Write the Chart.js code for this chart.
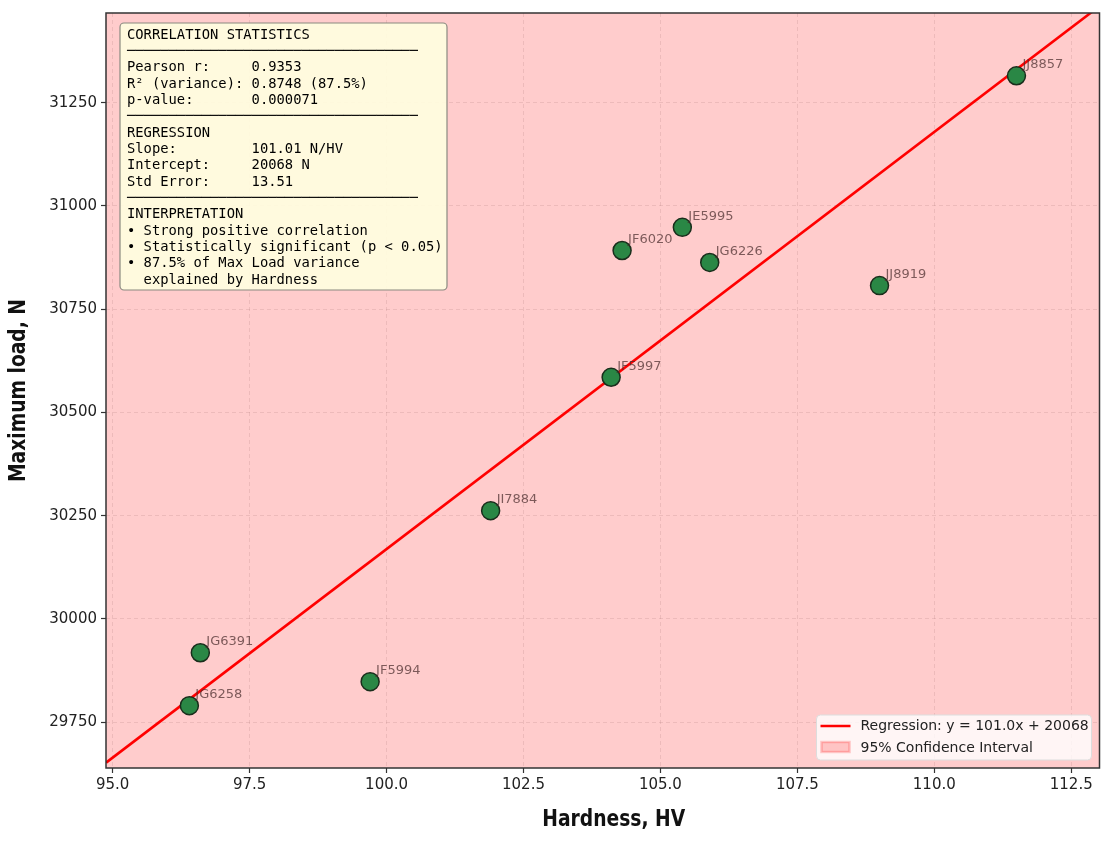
<!DOCTYPE html>
<html>
<head>
<meta charset="utf-8">
<script src="https://cdn.jsdelivr.net/npm/chart.js@4.4.1/dist/chart.umd.min.js"></script>
<style>
  body { margin: 0; background: #fff; }
  canvas { display: block; }
</style>
</head>
<body>
<canvas id="chart" width="1110" height="842"></canvas>
<script>
// samples
const sampleIds = ['JG6258', 'JG6391', 'JF5994', 'JI7884', 'JF5997', 'JF6020', 'JE5995', 'JG6226', 'JJ8919', 'JJ8857'];
const hardness = [96.4, 96.6, 99.7, 101.9, 104.1, 104.3, 105.4, 105.9, 109.0, 111.5];
const maxLoad = [29790, 29918, 29848, 30262, 30585, 30892, 30948, 30863, 30807, 31315];

// regression line ends (at the axis limits)
const regLineX = [94.88, 113.02];
const regLineY = [29652, 31484];

// confidence band - wider than the visible window
const ciX = [94, 114];
const ciUpper = [32000, 32000];
const ciLower = [29000, 29000];

const statsLines = [
  'CORRELATION STATISTICS',
  '─'.repeat(35),
  'Pearson r:     0.9353',
  'R² (variance): 0.8748 (87.5%)',
  'p-value:       0.000071',
  '─'.repeat(35),
  'REGRESSION',
  'Slope:         101.01 N/HV',
  'Intercept:     20068 N',
  'Std Error:     13.51',
  '─'.repeat(35),
  'INTERPRETATION',
  '• Strong positive correlation',
  '• Statistically significant (p < 0.05)',
  '• 87.5% of Max Load variance',
  '  explained by Hardness'
];

const legendItems = ['Regression: y = 101.0x + 20068', '95% Confidence Interval'];
const xTitle = 'Hardness, HV';
const yTitle = 'Maximum load, N';

const xMin = 94.878, xMax = 113.016;
const yMin = 29639, yMax = 31467;

const extras = {
  id: 'extras',
  afterDatasetsDraw(chart) {
    const ctx = chart.ctx;
    const area = chart.chartArea;
    const xs = chart.scales.x, ys = chart.scales.y;

    // sample labels
    ctx.save();
    ctx.font = '13px "DejaVu Sans"';
    ctx.fillStyle = 'rgba(75,45,45,0.72)';
    ctx.textBaseline = 'middle';
    ctx.textAlign = 'left';
    sampleIds.forEach((id, i) => {
      const px = xs.getPixelForValue(hardness[i]);
      const py = ys.getPixelForValue(maxLoad[i]);
      ctx.fillText(id, px + 6, py - 11);
    });
    ctx.restore();

    // frame
    ctx.save();
    ctx.strokeStyle = '#333';
    ctx.lineWidth = 1.5;
    ctx.strokeRect(area.left, area.top, area.right - area.left, area.bottom - area.top);
    ctx.restore();

    // stats box
    ctx.save();
    const bx = area.left + 14, by = area.top + 10, bw = 327, bh = 267;
    ctx.beginPath();
    ctx.roundRect(bx, by, bw, bh, 4);
    ctx.fillStyle = 'rgba(255,252,222,0.95)';
    ctx.fill();
    ctx.strokeStyle = '#8a8a80';
    ctx.lineWidth = 1.2;
    ctx.stroke();
    ctx.font = '13.8px "DejaVu Sans Mono"';
    ctx.fillStyle = '#000';
    ctx.textBaseline = 'middle';
    statsLines.forEach((t, i) => ctx.fillText(t, bx + 7, by + 12 + i * 16.35));
    ctx.restore();

    // legend
    ctx.save();
    const lx = area.right - 283, ly = area.bottom - 53, lw = 275, lh = 45;
    ctx.beginPath();
    ctx.roundRect(lx, ly, lw, lh, 4);
    ctx.fillStyle = 'rgba(255,255,255,0.8)';
    ctx.fill();
    ctx.strokeStyle = '#ddd';
    ctx.lineWidth = 1;
    ctx.stroke();
    ctx.strokeStyle = '#ff0000';
    ctx.lineWidth = 2.5;
    ctx.beginPath();
    ctx.moveTo(lx + 4, ly + 11);
    ctx.lineTo(lx + 34, ly + 11);
    ctx.stroke();
    ctx.fillStyle = 'rgba(255,0,0,0.2)';
    ctx.strokeStyle = 'rgba(255,0,0,0.2)';
    ctx.fillRect(lx + 5, ly + 27, 28, 10);
    ctx.strokeRect(lx + 5, ly + 27, 28, 10);
    ctx.font = '14px "DejaVu Sans"';
    ctx.fillStyle = '#222';
    ctx.textBaseline = 'middle';
    ctx.fillText(legendItems[0], lx + 44, ly + 11);
    ctx.fillText(legendItems[1], lx + 44, ly + 33);
    ctx.restore();

    // axis titles (squeezed to the narrow bold face of the original)
    ctx.save();
    ctx.font = 'bold 23px "DejaVu Sans Condensed", "DejaVu Sans"';
    ctx.fillStyle = '#111';
    ctx.textAlign = 'center';
    ctx.textBaseline = 'middle';
    ctx.fillText(xTitle, (area.left + area.right) / 2 + 11, 820, 143);
    ctx.translate(19, (area.top + area.bottom) / 2);
    ctx.rotate(-Math.PI / 2);
    ctx.fillText(yTitle, 0, 0, 183);
    ctx.restore();
  }
};

const tickFont = { family: 'DejaVu Sans', size: 15 };

new Chart(document.getElementById('chart'), {
  type: 'scatter',
  data: {
    datasets: [
      {
        label: 'Samples',
        data: hardness.map((h, i) => ({ x: h, y: maxLoad[i] })),
        backgroundColor: '#2a8745',
        borderColor: '#1a2e1c',
        borderWidth: 1.5,
        pointRadius: 9,
        pointHoverRadius: 9,
        order: 0
      },
      {
        type: 'line',
        label: legendItems[0],
        data: regLineX.map((x, i) => ({ x: x, y: regLineY[i] })),
        borderColor: '#ff0000',
        borderWidth: 2.6,
        pointRadius: 0,
        fill: false,
        order: 1
      },
      {
        type: 'line',
        label: 'ciUpper',
        data: ciX.map((x, i) => ({ x: x, y: ciUpper[i] })),
        borderWidth: 0,
        pointRadius: 0,
        backgroundColor: 'rgba(255,0,0,0.2)',
        fill: '+1',
        order: 2
      },
      {
        type: 'line',
        label: 'ciLower',
        data: ciX.map((x, i) => ({ x: x, y: ciLower[i] })),
        borderWidth: 0,
        pointRadius: 0,
        fill: false,
        order: 2
      }
    ]
  },
  options: {
    responsive: false,
    animation: false,
    devicePixelRatio: 1,
    layout: { padding: { top: 11, right: 10, left: 0, bottom: 0 } },
    plugins: { legend: { display: false }, tooltip: { enabled: false } },
    scales: {
      x: {
        type: 'linear',
        min: xMin,
        max: xMax,
        afterFit(scale) { scale.height = 74; },
        ticks: {
          stepSize: 2.5,
          includeBounds: false,
          font: tickFont,
          color: '#222',
          padding: 3,
          maxRotation: 0,
          callback: v => v.toFixed(1)
        },
        grid: { color: 'rgba(150,150,150,0.22)', tickColor: '#333', tickLength: 5, tickWidth: 1.2 },
        border: { display: false, dash: [4, 3] }
      },
      y: {
        type: 'linear',
        min: yMin,
        max: yMax,
        afterFit(scale) { scale.width = 106; },
        ticks: {
          stepSize: 250,
          includeBounds: false,
          font: tickFont,
          color: '#222',
          padding: 4,
          callback: v => String(v)
        },
        grid: { color: 'rgba(150,150,150,0.22)', tickColor: '#333', tickLength: 5, tickWidth: 1.2 },
        border: { display: false, dash: [4, 3] }
      }
    }
  },
  plugins: [extras]
});
</script>
</body>
</html>
